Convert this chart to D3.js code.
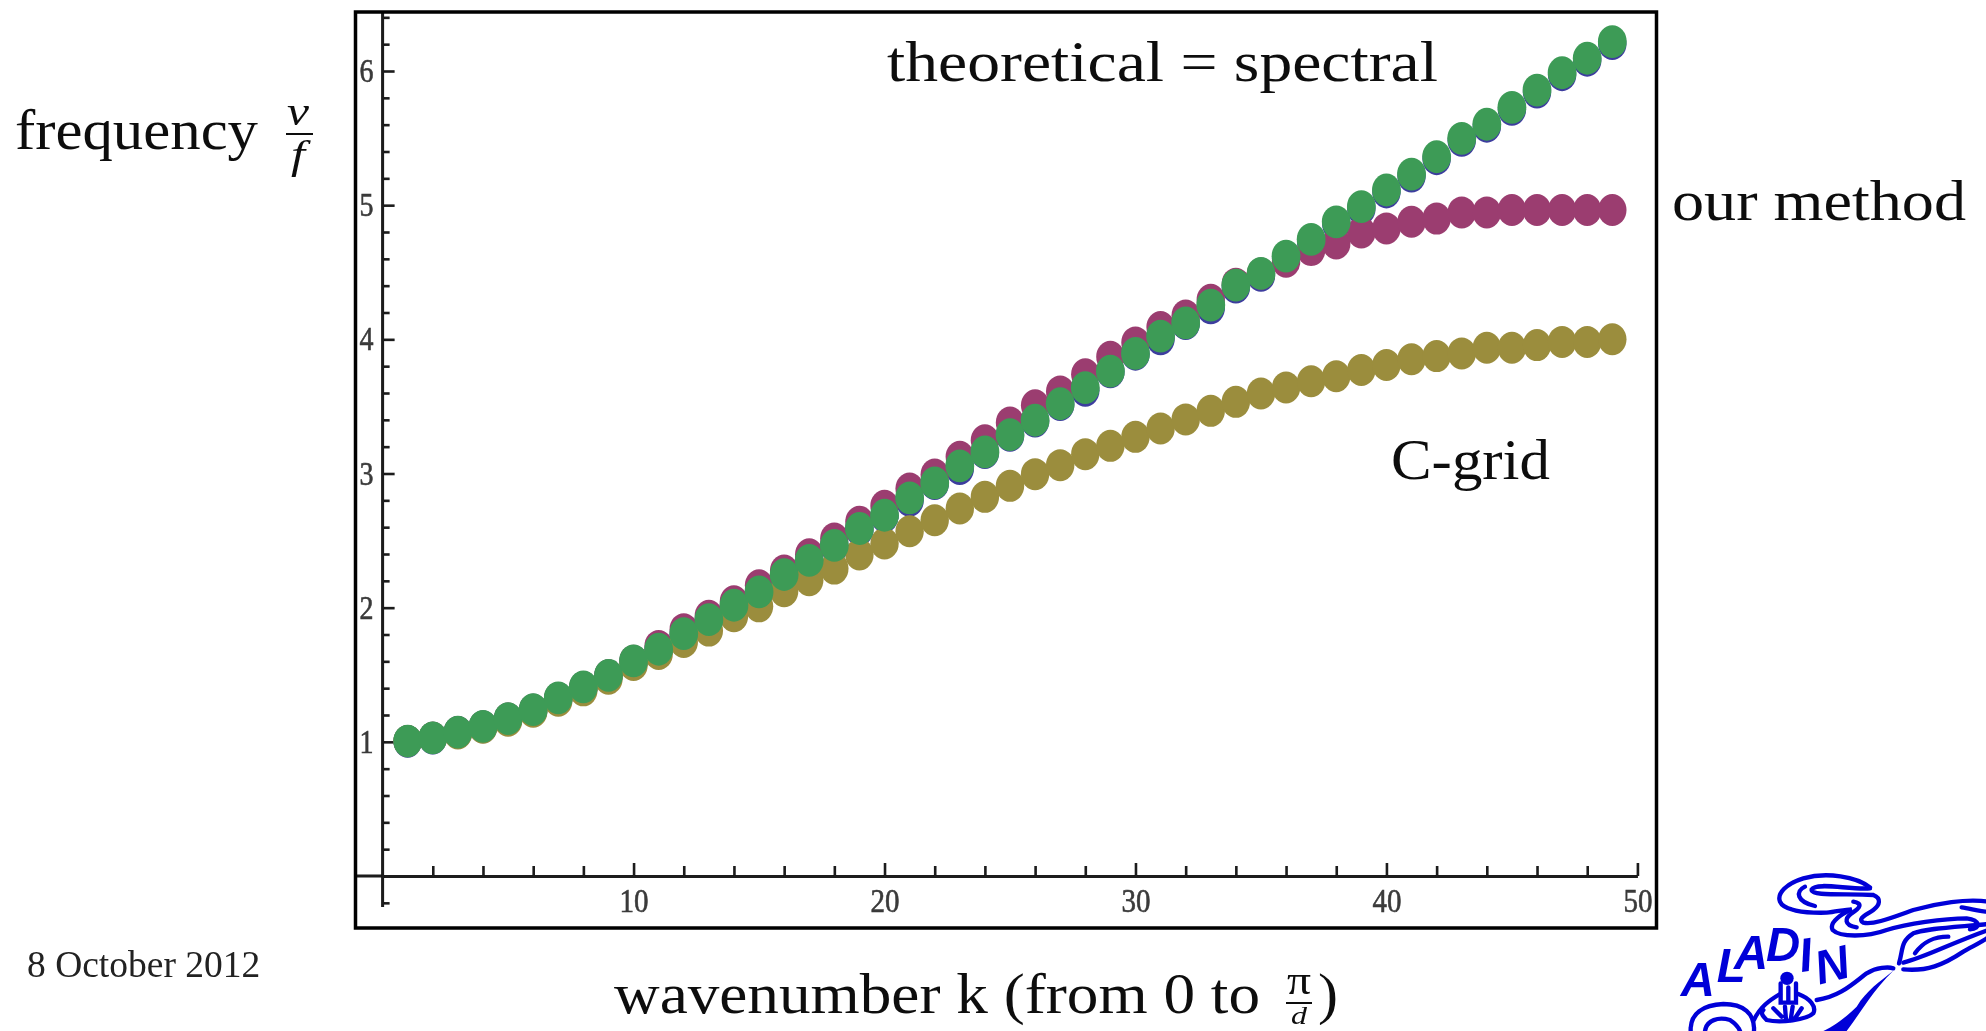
<!DOCTYPE html>
<html>
<head>
<meta charset="utf-8">
<script src="https://d3js.org/d3.v7.min.js"></script>
<style>
  html, body { margin: 0; padding: 0; background: #fff; overflow: hidden; }
  text { font-family: "Liberation Serif", serif; fill: #111; }
  .axis path, .axis line { stroke: #1a1a1a; }
  .axis text { font-size: 33px; fill: #3a3a3a; stroke: #3a3a3a; stroke-width: 0.6; }
</style>
</head>
<body>
<script type="text/javascript">

  // values
  var wavenumber = d3.range(1, 50);
  var spectral = [1.006,1.03,1.073,1.115,1.173,1.24,1.327,1.409,1.496,1.603,1.69,1.807,1.911,2.018,2.117,2.247,2.353,2.465,2.59,2.689,2.818,2.93,3.057,3.161,3.29,3.397,3.52,3.64,3.763,3.895,4.024,4.123,4.255,4.404,4.491,4.62,4.745,4.876,4.989,5.113,5.232,5.361,5.498,5.603,5.729,5.858,5.987,6.095,6.219];
  var theoretical = [1.004,1.028,1.07,1.112,1.17,1.236,1.323,1.405,1.492,1.598,1.685,1.802,1.906,2.012,2.112,2.241,2.347,2.459,2.584,2.683,2.8,2.924,3.037,3.155,3.284,3.391,3.514,3.62,3.757,3.889,4.004,4.117,4.235,4.389,4.476,4.605,4.73,4.861,4.974,5.098,5.217,5.346,5.483,5.588,5.714,5.843,5.972,6.08,6.204];
  var ourMethod = [1.006,1.03,1.073,1.115,1.173,1.24,1.327,1.409,1.496,1.605,1.715,1.84,1.94,2.048,2.167,2.277,2.398,2.515,2.64,2.759,2.888,2.992,3.124,3.248,3.38,3.509,3.612,3.74,3.87,3.977,4.091,4.178,4.295,4.415,4.49,4.578,4.665,4.715,4.797,4.827,4.876,4.9,4.946,4.946,4.964,4.964,4.964,4.964,4.964];
  var cGrid = [1.006,1.03,1.063,1.105,1.158,1.225,1.307,1.384,1.471,1.573,1.655,1.745,1.829,1.936,2.01,2.123,2.205,2.291,2.396,2.478,2.57,2.652,2.739,2.826,2.908,2.995,3.062,3.144,3.206,3.273,3.335,3.403,3.467,3.534,3.596,3.641,3.688,3.725,3.771,3.809,3.852,3.875,3.895,3.937,3.937,3.957,3.981,3.981,4.001];

  var xMajor = [10, 20, 30, 40, 50];
  var xMinor = [2,4,6,8,12,14,16,18,22,24,26,28,32,34,36,38,42,44,46,48];
  var yMajor = [1, 2, 3, 4, 5, 6];
  var yMinor = [-0.2,0.2,0.4,0.6,0.8,1.2,1.4,1.6,1.8,2.2,2.4,2.6,2.8,3.2,3.4,3.6,3.8,4.2,4.4,4.6,4.8,5.2,5.4,5.6,5.8,6.2,6.4];

  var w = 1986, h = 1031;

  var svg = d3.select("body").append("svg")
      .attr("width", w)
      .attr("height", h);

  // the source is a blown up bitmap, so everything in the plot is a bit soft
  var defs = svg.append("defs");
  defs.append("filter").attr("id", "soft")
      .attr("x", "-5%").attr("y", "-5%").attr("width", "110%").attr("height", "110%")
      .append("feGaussianBlur").attr("stdDeviation", 0.7);
  defs.append("filter").attr("id", "softtext")
      .attr("x", "-5%").attr("y", "-20%").attr("width", "110%").attr("height", "140%")
      .append("feGaussianBlur").attr("stdDeviation", 0.55);

  var x = d3.scaleLinear().domain([0, 50]).range([382.6, 1637.4]);
  var y = d3.scaleLinear().domain([0, 6]).range([876, 71]);

  var plot = svg.append("g").attr("filter", "url(#soft)");

  // axes
  plot.append("g")
      .attr("class", "axis")
      .attr("transform", "translate(0," + y(0) + ")")
      .call(d3.axisBottom(x).tickValues(xMajor).tickSize(-13).tickSizeOuter(0).tickPadding(13)
        .tickFormat(d3.format("d")))
      .call(function(g) {
        g.selectAll("line").attr("stroke-width", 2.6);
        g.select("path").attr("stroke-width", 3);
        g.selectAll("text").attr("textLength", 29).attr("lengthAdjust", "spacingAndGlyphs");
      });

  plot.append("g")
      .attr("class", "axis")
      .attr("transform", "translate(0," + y(0) + ")")
      .call(d3.axisBottom(x).tickValues(xMinor).tickSize(-10).tickSizeOuter(0).tickFormat(""))
      .call(function(g) {
        g.select("path").remove();
        g.selectAll("line").attr("stroke-width", 2.6);
      });

  plot.append("line")
      .attr("x1", 356).attr("x2", x(0))
      .attr("y1", y(0)).attr("y2", y(0))
      .attr("stroke", "#1a1a1a").attr("stroke-width", 3);

  plot.append("g")
      .attr("class", "axis")
      .attr("transform", "translate(" + x(0) + ",0)")
      .call(d3.axisLeft(y).tickValues(yMajor).tickSize(-12).tickSizeOuter(0).tickPadding(9)
        .tickFormat(d3.format("d")))
      .call(function(g) {
        g.select("path").remove();
        g.selectAll("line").attr("stroke-width", 2.6);
        g.selectAll("text").attr("textLength", 14).attr("lengthAdjust", "spacingAndGlyphs");
      });

  plot.append("g")
      .attr("class", "axis")
      .attr("transform", "translate(" + x(0) + ",0)")
      .call(d3.axisLeft(y).tickValues(yMinor).tickSize(-7).tickSizeOuter(0).tickFormat(""))
      .call(function(g) {
        g.select("path").remove();
        g.selectAll("line").attr("stroke-width", 2.6);
      });

  plot.append("line")
      .attr("x1", x(0)).attr("x2", x(0))
      .attr("y1", 12).attr("y2", 907)
      .attr("stroke", "#1a1a1a").attr("stroke-width", 3);

  // series, same order as they were plotted
  var series = [
    {name: "theoretical", values: theoretical, color: "#3c3c9e", rx: 14.2, ry: 16.4},
    {name: "our method", values: ourMethod, color: "#9b3d70", rx: 14.2, ry: 16},
    {name: "C-grid", values: cGrid, color: "#9b8d3e", rx: 14.2, ry: 16},
    {name: "spectral", values: spectral, color: "#3d9b57", rx: 14.4, ry: 16.4}
  ];

  plot.selectAll("g.series")
      .data(series)
      .enter().append("g")
      .attr("class", "series")
      .attr("fill", function(d) { return d.color; })
      .each(function(s) {
        d3.select(this).selectAll("ellipse")
            .data(s.values)
            .enter().append("ellipse")
            .attr("cx", function(d, i) { return x(wavenumber[i]); })
            .attr("cy", function(d) { return y(d); })
            .attr("rx", s.rx)
            .attr("ry", s.ry);
      });

  // frame
  svg.append("rect")
      .attr("x", 355.5).attr("y", 12)
      .attr("width", 1301).attr("height", 916)
      .attr("fill", "none")
      .attr("stroke", "#000")
      .attr("stroke-width", 3.5);

  // labels, written in computer modern in the original
  var labels = svg.append("g").attr("filter", "url(#softtext)");

  function label(str, px, py, size, len, italic) {
    var t = labels.append("text")
        .attr("x", px).attr("y", py)
        .attr("font-size", size)
        .attr("font-style", italic ? "italic" : "normal")
        .text(str);
    if (len) t.attr("textLength", len).attr("lengthAdjust", "spacingAndGlyphs");
    return t;
  }

  function bar(x1, x2, py) {
    labels.append("line")
        .attr("x1", x1).attr("x2", x2).attr("y1", py).attr("y2", py)
        .attr("stroke", "#111").attr("stroke-width", 2);
  }

  label("theoretical = spectral", 887, 81, 58, 551);
  label("our method", 1672, 220, 58, 294);
  label("C-grid", 1391, 479, 58, 159);
  label("frequency", 15, 149, 58, 243);
  label("ν", 287, 125, 40, 22, true);
  bar(286, 313, 134);
  label("f", 291, 168, 40, 14, true);
  label("wavenumber k (from 0 to", 614, 1013, 58, 646);
  label("π", 1287, 994, 40, 24);
  bar(1286, 1312, 1003);
  label("d", 1291, 1024, 26, 16, true);
  label(")", 1318, 1013, 58, 20);

  svg.append("text")
      .attr("x", 27).attr("y", 977)
      .attr("font-size", 37.5)
      .style("fill", "#222")
      .text("8 October 2012");

  // ALADIN logo, bottom right, runs off the page
  var logo = svg.append("g")
      .attr("transform", "translate(1660,850) scale(0.3333)")
      .attr("fill", "none")
      .attr("stroke", "#0000d8")
      .attr("stroke-width", 13)
      .attr("stroke-linecap", "round");

  var logoLines = [
    "M630 112C590 80 500 65 430 85C380 100 350 130 360 155C370 180 430 190 500 188C530 185 555 178 575 178C550 190 505 215 518 240C540 262 620 262 680 240C740 222 850 205 920 205C960 210 965 235 930 238",
    "M630 115C570 120 470 95 455 118C450 140 560 130 640 135C665 145 660 165 640 180C620 195 590 205 610 218C640 225 690 205 760 180C830 160 920 145 985 155",
    "M435 110C405 125 410 155 465 168",
    "M580 155C610 160 600 175 575 190C555 205 550 225 590 232",
    "M905 172C930 175 960 185 985 185",
    "M717 340C730 300 720 275 760 250C800 235 880 232 985 222",
    "M865 260C820 260 790 275 765 310",
    "M730 338C800 320 860 285 985 240",
    "M730 358C800 365 850 345 910 305C935 290 960 280 985 262",
    "M470 450C540 440 580 400 620 370C650 352 685 350 700 355",
    "M92 543C90 490 130 465 190 462C250 462 285 490 282 543",
    "M135 543C140 510 175 500 210 510C225 520 235 530 240 543",
    "M282 510C300 470 330 450 360 432",
    "M415 432C450 445 470 470 460 490C440 510 360 520 320 510C310 500 300 490 310 480",
    "M340 475L365 500M425 475L405 505M375 470L378 510M398 470L392 510",
    "M362 400L362 458L408 458L408 400M385 412L385 458"
  ];

  logo.selectAll("path.stroke")
      .data(logoLines)
      .enter().append("path")
      .attr("class", "stroke")
      .attr("d", function(d) { return d; });

  logo.append("path")
      .attr("d", "M700 362C660 395 620 420 590 470C560 500 520 530 490 543L560 543C600 490 640 420 700 362Z")
      .attr("fill", "#0000d8")
      .attr("stroke", "none");

  logo.append("circle")
      .attr("cx", 381).attr("cy", 385).attr("r", 20)
      .attr("fill", "#0000d8").attr("stroke", "none");

  var logoLetters = [
    {c: "A", x: 62, y: 438, a: 0},
    {c: "L", x: 170, y: 396, a: 0},
    {c: "A", x: 222, y: 356, a: 0},
    {c: "D", x: 318, y: 332, a: 0},
    {c: "I", x: 424, y: 366, a: -8},
    {c: "N", x: 478, y: 404, a: -14}
  ];

  logo.selectAll("text")
      .data(logoLetters)
      .enter().append("text")
      .attr("transform", function(d) { return "translate(" + d.x + "," + d.y + ") rotate(" + d.a + ")"; })
      .attr("font-size", 142)
      .attr("font-weight", "bold")
      .attr("font-style", "italic")
      .style("font-family", "'Liberation Sans', sans-serif")
      .style("fill", "#0000d8")
      .attr("stroke", "none")
      .text(function(d) { return d.c; });

</script>
</body>
</html>
